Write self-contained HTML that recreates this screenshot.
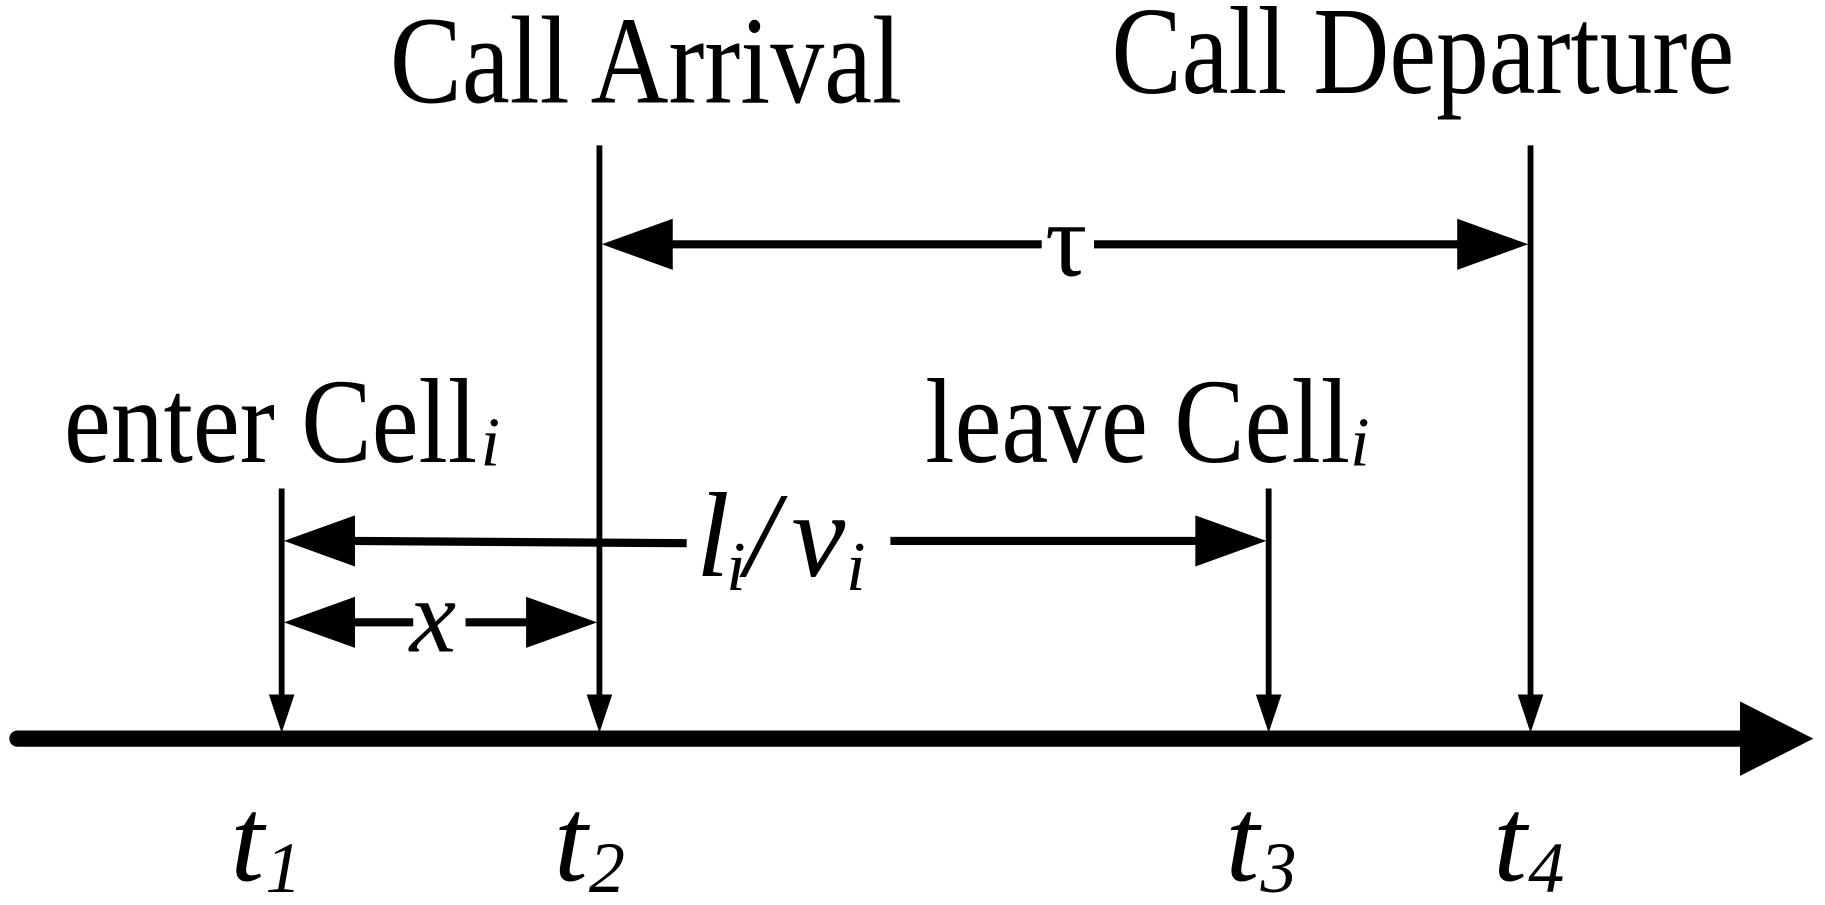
<!DOCTYPE html>
<html><head><style>html,body{margin:0;padding:0;background:#fff}svg{display:block}</style></head>
<body>
<svg width="1825" height="905" viewBox="0 0 1568 778" preserveAspectRatio="none" xmlns="http://www.w3.org/2000/svg" font-family="Liberation Serif, serif">
<line x1="15" y1="635" x2="1500" y2="635" stroke="#000" stroke-width="14" stroke-linecap="round"/>
<path d="M1495,603 L1558,635 L1495,667 Z" fill="#000"/>
<g stroke="#000" stroke-width="5">
<line x1="242" y1="420" x2="242" y2="600"/>
<line x1="515" y1="125" x2="515" y2="600"/>
<line x1="1090" y1="420" x2="1090" y2="600"/>
<line x1="1315" y1="125" x2="1315" y2="600"/>
</g>
<g fill="#000">
<path d="M231,597 L253,597 L242,630 Z"/>
<path d="M504,597 L526,597 L515,630 Z"/>
<path d="M1079,597 L1101,597 L1090,630 Z"/>
<path d="M1304,597 L1326,597 L1315,630 Z"/>
</g>
<g stroke="#000" stroke-width="7">
<line x1="575" y1="210" x2="895" y2="210"/>
<line x1="940" y1="210" x2="1255" y2="210"/>
<line x1="300" y1="465" x2="590" y2="467"/>
<line x1="765" y1="465" x2="1030" y2="465"/>
<line x1="300" y1="535" x2="355" y2="535"/>
<line x1="400" y1="535" x2="455" y2="535"/>
</g>
<g fill="#000">
<path d="M517,210 L578,188 L578,232 Z"/>
<path d="M1313,210 L1252,188 L1252,232 Z"/>
<path d="M244,465 L305,443 L305,487 Z"/>
<path d="M1088,465 L1027,443 L1027,487 Z"/>
<path d="M244,535 L305,513 L305,557 Z"/>
<path d="M513,535 L452,513 L452,557 Z"/>
</g>
<g fill="#000">
<text x="335" y="88" font-size="108" textLength="440" lengthAdjust="spacingAndGlyphs">Call Arrival</text>
<text x="955" y="80" font-size="108" textLength="535" lengthAdjust="spacingAndGlyphs">Call Departure</text>
<text x="55" y="397" font-size="104" textLength="355" lengthAdjust="spacingAndGlyphs">enter Cell</text>
<text x="413" y="400" font-size="60" font-style="italic">i</text>
<text x="795" y="397" font-size="104" textLength="365" lengthAdjust="spacingAndGlyphs">leave Cell</text>
<text x="1160" y="400" font-size="60" font-style="italic">i</text>
<text x="898" y="237" font-size="90">τ</text>
<text x="598" y="495" font-size="104" font-style="italic">l</text>
<text x="624" y="507" font-size="60" font-style="italic">i</text>
<text x="640" y="495" font-size="104" font-style="italic">/</text>
<text x="680" y="495" font-size="104" font-style="italic">v</text>
<text x="727" y="507" font-size="60" font-style="italic">i</text>
<text x="352" y="560" font-size="90" font-style="italic">x</text>
<text x="198" y="757" font-size="104" font-style="italic">t</text><text x="228" y="767" font-size="62" font-style="italic">1</text>
<text x="476" y="757" font-size="104" font-style="italic">t</text><text x="506" y="767" font-size="62" font-style="italic">2</text>
<text x="1053" y="757" font-size="104" font-style="italic">t</text><text x="1083" y="767" font-size="62" font-style="italic">3</text>
<text x="1283" y="757" font-size="104" font-style="italic">t</text><text x="1313" y="767" font-size="62" font-style="italic">4</text>
</g>
</svg>
</body></html>
